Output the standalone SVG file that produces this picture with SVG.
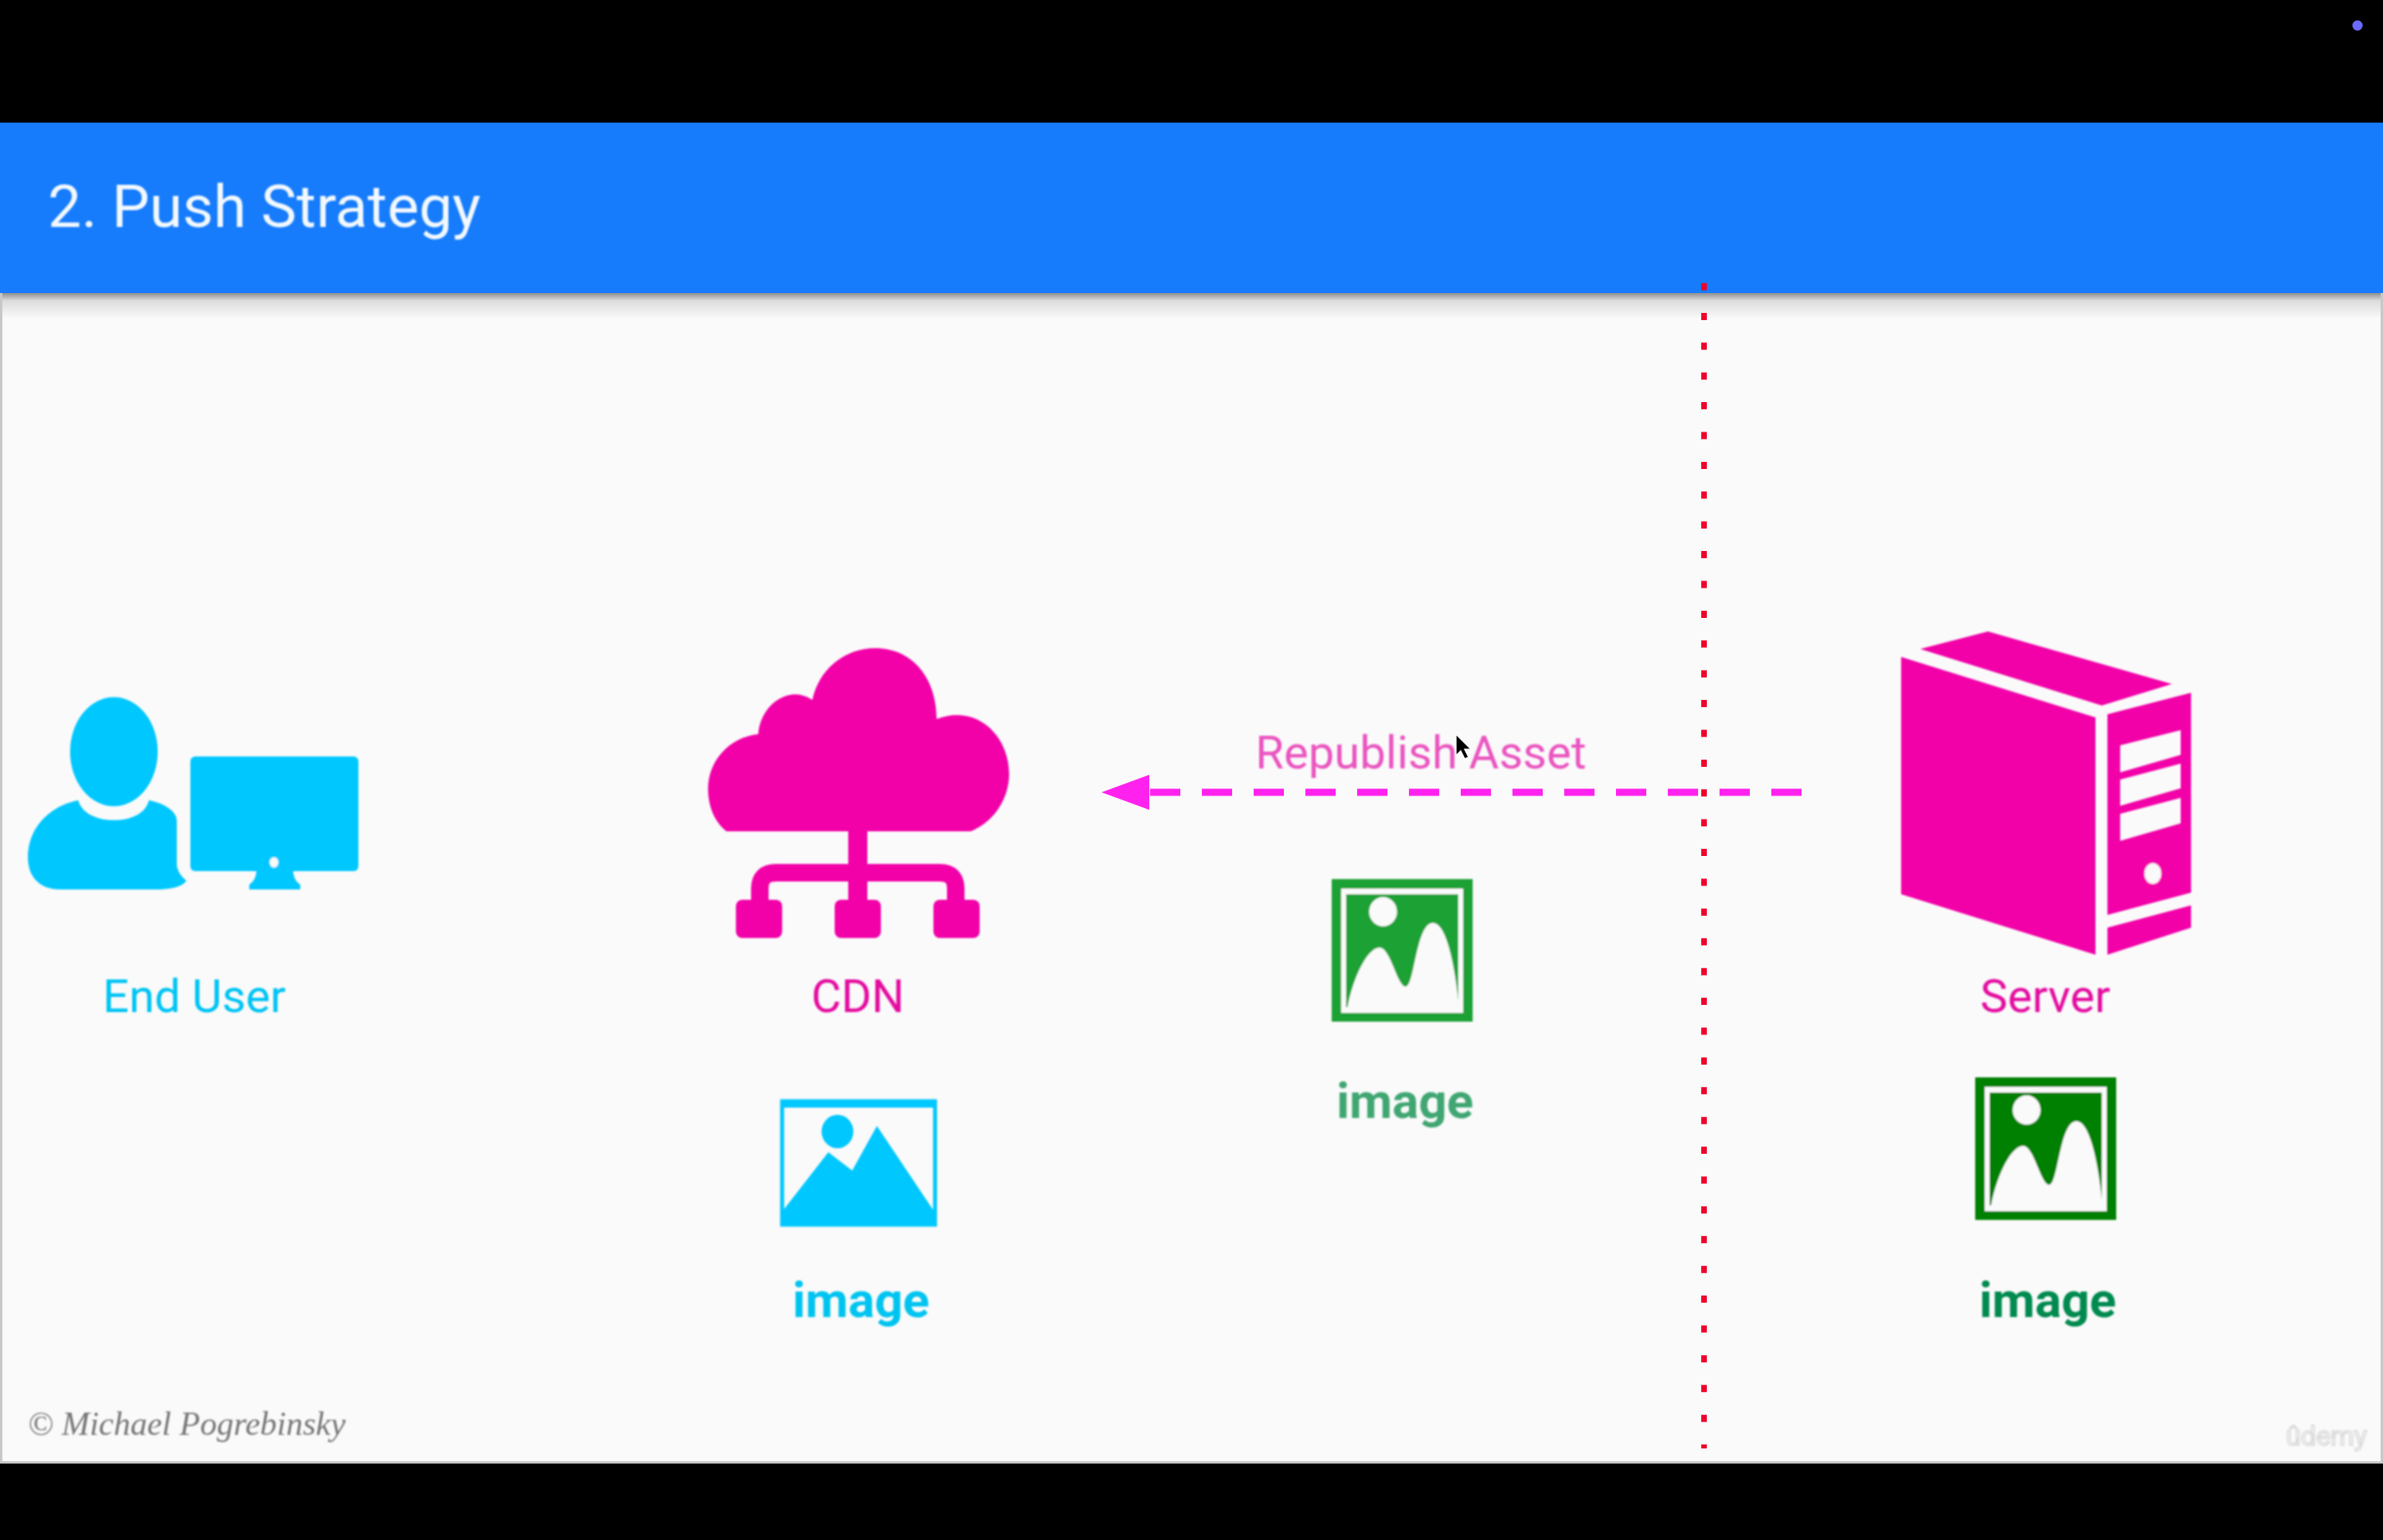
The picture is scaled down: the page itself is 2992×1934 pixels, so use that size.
<svg xmlns="http://www.w3.org/2000/svg" width="2992" height="1934" viewBox="0 0 2992 1934">
<defs>
<style>
text{font-family:Roboto,"Liberation Sans",sans-serif}
.lbl{font-size:58px;text-anchor:middle}
.img{font-size:62px;font-weight:700;text-anchor:middle}
.mag{fill:#f200a8}
.cy{fill:#00c8ff}
</style>
<linearGradient id="sh" x1="0" y1="0" x2="0" y2="1"><stop offset="0" stop-color="#8f8f8f"/><stop offset=".3" stop-color="#dcdcdc"/><stop offset="1" stop-color="#fafafa"/></linearGradient>
<filter id="soft" x="-5%" y="-5%" width="110%" height="110%"><feGaussianBlur stdDeviation="1"/></filter>
<marker id="tri" markerUnits="userSpaceOnUse" markerWidth="62" markerHeight="44" refX="0" refY="22" orient="auto"><path d="M0,0 L60,22 L0,44 Z" fill="#ff22ee"/></marker>
<g id="pic">
<rect x="0" y="0" width="177" height="179" fill="currentColor"/>
<rect x="12" y="12" width="153" height="156" fill="#fafafa"/>
<rect x="18" y="19" width="141" height="142" fill="currentColor"/>
<ellipse cx="64.500" cy="41" rx="17.500" ry="18.500" fill="#fafafa"/>
<path d="M18,168 L20,160 C28,120 46,86 60,86 C74,86 82,135 93,135 C104,135 106,55 127,55 C146,55 156,120 160,160 L160,168 Z" fill="#fafafa"/>
</g>
</defs>

<rect id="screen" x="0" y="0" width="2992" height="1934" fill="#000"/>
<rect x="0" y="154" width="2992" height="1684" fill="#c8c8c8"/>
<rect id="body" x="3" y="368" width="2986" height="1467" fill="#fafafa"/>
<rect x="3" y="368" width="2986" height="32" fill="url(#sh)"/>
<rect id="header" x="0" y="154" width="2992" height="214" fill="#167cfc"/>
<circle cx="2960" cy="32" r="6.500" fill="#6a6aff"/>
<text id="title" x="60" y="285" font-size="75" fill="#f2f8ff" filter="url(#soft)">2. Push Strategy</text>

<g id="connectors">
<line id="republish" x1="2262" y1="995" x2="1443" y2="995" stroke="#ff22ee" stroke-width="9" stroke-dasharray="38 27" marker-end="url(#tri)"/>
<line id="divider" x1="2139.500" y1="355.500" x2="2139.500" y2="1819" stroke="#f0002a" stroke-width="7" stroke-dasharray="9 28.400"/>
</g>

<g id="end-user" filter="url(#soft)">
<ellipse class="cy" cx="143" cy="944" rx="55" ry="68.500"/>
<path class="cy" d="M98,1005 C103,1021 120,1030 143,1030 C166,1030 183,1021 187,1005 C207,1009 222,1019 222,1031 V1084 C222,1093 226,1099 234,1106 C230,1113 215,1117 199,1117 H75 C50,1117 35,1101 35,1077 C35,1041 60,1013 98,1005 Z"/>
<rect class="cy" x="239" y="950" width="211" height="144" rx="6"/>
<path class="cy" d="M322,1091 H368 C368,1103 372,1107 377,1111 V1117 H313 V1111 C318,1107 322,1103 322,1091 Z"/>
<ellipse cx="344" cy="1083" rx="5.500" ry="6.500" fill="#fafafa"/>
<text class="lbl" x="244" y="1271" fill="#00c4f5">End User</text>
</g>

<g id="cdn" filter="url(#soft)">
<path class="mag" d="M912,1044 C896,1031 889,1011 889,991 C889,956 915,926 952,922 C954,894 975,872 999,872 C1006,872 1014,875 1020,879 C1028,841 1060,814 1099,814 C1145,814 1176,851 1176,903 C1184,900 1192,898 1202,898 C1238,898 1267,931 1267,972 C1267,1001 1250,1031 1219,1044 Z"/>
<rect class="mag" x="1065" y="1040" width="24" height="95"/>
<path d="M954,1135 V1116 Q954,1096 974,1096 H1180 Q1200,1096 1200,1116 V1135" fill="none" stroke="#f200a8" stroke-width="22"/>
<rect class="mag" x="924" y="1130" width="58" height="48" rx="8"/>
<rect class="mag" x="1048" y="1130" width="58" height="48" rx="8"/>
<rect class="mag" x="1172" y="1130" width="58" height="48" rx="8"/>
<text class="lbl" x="1077" y="1271" fill="#e410a0">CDN</text>
</g>

<g id="server" filter="url(#soft)">
<path class="mag" d="M2496,793 L2727,859 L2639,886 L2411,815 Z"/>
<path class="mag" d="M2387,825 L2631,901 V1199 L2387,1123 Z"/>
<path class="mag" fill-rule="evenodd" d="M2646,897 L2751,870 V1121 L2646,1149 Z M2662,936 L2738,917 V948 L2662,970 Z M2662,979 L2738,959 V990 L2662,1012 Z M2662,1022 L2738,1002 V1034 L2662,1056 Z"/>
<path class="mag" d="M2646,1165 L2751,1137 V1165 L2646,1199 Z"/>
<ellipse cx="2703" cy="1097" rx="10.500" ry="13" fill="#fafafa"/>
<text class="lbl" x="2568" y="1271" fill="#e410a0">Server</text>
</g>

<g id="image-cdn" filter="url(#soft)">
<rect x="982" y="1383" width="192" height="155" fill="none" stroke="#00c8ff" stroke-width="5"/>
<rect class="cy" x="980" y="1381" width="196" height="10"/>
<ellipse class="cy" cx="1051.500" cy="1421" rx="20" ry="21"/>
<path class="cy" d="M984,1519 L1040,1447 L1070,1470 L1101,1414 L1172,1520 V1540 H984 Z"/>
<text class="img" x="1081" y="1654" fill="#00c4f0">image</text>
</g>

<g id="image-transit" filter="url(#soft)">
<use href="#pic" x="1672" y="1104" color="#1aa135"/>
<text class="img" x="1764" y="1404" fill="#3fa672">image</text>
</g>

<g id="image-server" filter="url(#soft)">
<use href="#pic" x="2480" y="1353" color="#008000"/>
<text class="img" x="2571" y="1654" fill="#008a50">image</text>
</g>

<text id="republish-label" x="1784" y="965" font-size="58" text-anchor="middle" fill="#ea55c0" filter="url(#soft)">Republish Asset</text>
<g id="cursor"><path d="M1828,922 L1828,949 L1834,943 L1839,953 L1844,951 L1839,941 L1847,941 Z" fill="#000" stroke="#fafafa" stroke-width="1.500"/></g>

<text id="credit" x="35" y="1802" font-size="42" font-style="italic" fill="#777" filter="url(#soft)" style="font-family:'Liberation Serif',serif">© Michael Pogrebinsky</text>
<text id="watermark" x="2870" y="1815" font-size="34" fill="#fff" stroke="#ddd" stroke-width="2" filter="url(#soft)">ûdemy</text>
</svg>
